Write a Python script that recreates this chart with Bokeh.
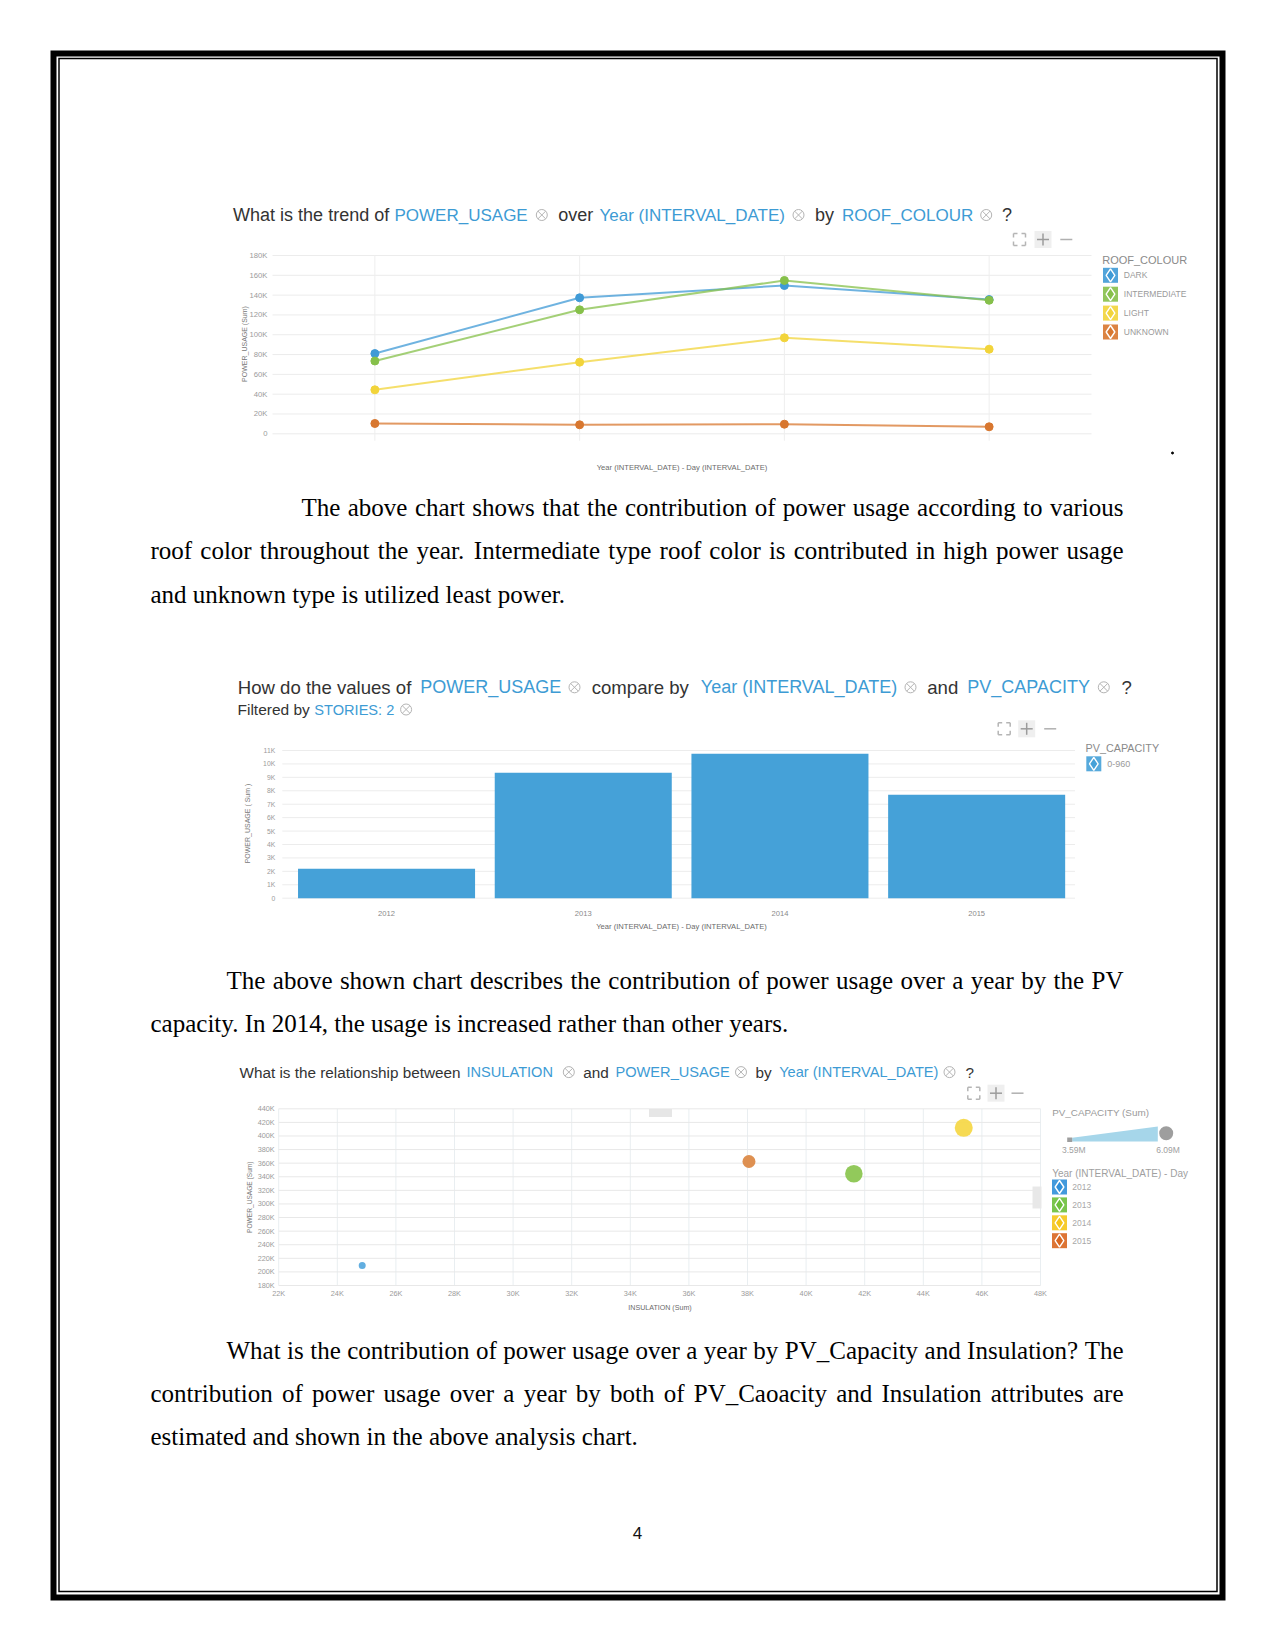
import math
from bokeh.plotting import figure
from bokeh.models import Range1d, ColumnDataSource, LinearInterpolator
from bokeh.transform import transform
from bokeh.core.properties import value
from bokeh.embed import file_html
from bokeh.resources import INLINE

# ---------------- data ----------------
years = ["2012", "2013", "2014", "2015"]
roof_colours = ["DARK", "INTERMEDIATE", "LIGHT", "UNKNOWN"]
usage_dark = [81000, 137300, 149700, 135500]
usage_intermediate = [73500, 125200, 154800, 134800]
usage_light = [44400, 72300, 96900, 85400]
usage_unknown = [10400, 9100, 9700, 7100]
line_y_ticks = [0, 20000, 40000, 60000, 80000, 100000, 120000, 140000, 160000, 180000]
line_y_labels = ["0", "20K", "40K", "60K", "80K", "100K", "120K", "140K", "160K", "180K"]

bar_usage = [2200, 9350, 10750, 7700]
bar_y_ticks = [0, 1000, 2000, 3000, 4000, 5000, 6000, 7000, 8000, 9000, 10000, 11000]
bar_y_labels = ["0", "1K", "2K", "3K", "4K", "5K", "6K", "7K", "8K", "9K", "10K", "11K"]
pv_capacity_bins = ["0-960"]

scatter_years = ["2012", "2013", "2014", "2015"]
scatter_insulation = [24850, 41630, 45380, 38050]
scatter_usage = [209400, 344400, 412000, 362500]
scatter_pv_capacity = [3590000, 5980000, 6090000, 4950000]
pv_size_labels = ["3.59M", "6.09M"]
scatter_x_ticks = [22000, 24000, 26000, 28000, 30000, 32000, 34000, 36000, 38000, 40000,
                   42000, 44000, 46000, 48000]
scatter_x_labels = ["22K", "24K", "26K", "28K", "30K", "32K", "34K", "36K", "38K", "40K",
                    "42K", "44K", "46K", "48K"]
scatter_y_ticks = [180000, 200000, 220000, 240000, 260000, 280000, 300000, 320000, 340000,
                   360000, 380000, 400000, 420000, 440000]
scatter_y_labels = ["180K", "200K", "220K", "240K", "260K", "280K", "300K", "320K", "340K",
                    "360K", "380K", "400K", "420K", "440K"]

para1 = ["The above chart shows that the contribution of power usage according to various",
         "roof color throughout the year. Intermediate type roof color is contributed in high power usage",
         "and unknown type is utilized least power."]
para2 = ["The above shown chart describes the contribution of power usage over a year by the PV",
         "capacity. In 2014, the usage is increased rather than other years."]
para3 = ["What is the contribution of power usage over a year by PV_Capacity and Insulation? The",
         "contribution of power usage over a year by both of PV_Caoacity and Insulation attributes are",
         "estimated and shown in the above analysis chart."]
page_number = "4"

# ---------------- styles ----------------
roof_colors = ["#3f9ad6", "#86c04a", "#f2d43a", "#d8772f"]
scatter_colors = ["#5aaade", "#8cc652", "#f5d84a", "#dc8a48"]
year_legend_colors = ["#2f8fd8", "#6cbf3a", "#f5c518", "#d9661f"]
BAR_COLOR = "#45a1d8"
HL = "#3d9bd4"
DARK = "#333333"
SANS = value("Liberation Sans")
SERIF = value("Liberation Serif")

P = figure(width=1259, height=1635, x_range=Range1d(0, 1259), y_range=Range1d(1635, 0),
           output_backend="svg", toolbar_location=None, min_border=0,
           x_axis_location=None, y_axis_location=None)
P.grid.visible = False
P.outline_line_color = None
P.background_fill_color = "white"
P.border_fill_color = "white"


def txt(x, y, s, size, color="#000000", font=SANS, align="left", baseline="middle",
        angle=0.0, style="normal", g=None, x_offset=0, y_offset=0):
    g = g or P
    n = max(len(v) if isinstance(v, list) else 1 for v in (x, y, s))
    xs = x if isinstance(x, list) else [x] * n
    ys = y if isinstance(y, list) else [y] * n
    ss = s if isinstance(s, list) else [s] * n
    g.text(x=xs, y=ys, text=ss, text_font=font, text_font_size=f"{size}px",
           text_color=color, text_align=align, text_baseline=baseline, angle=angle,
           text_font_style=style, x_offset=x_offset, y_offset=y_offset)


# ---------------- page border ----------------
P.quad(left=53, right=1222, top=53, bottom=1597, fill_color=None, line_color="black",
       line_width=6, line_join="miter")
P.quad(left=58.5, right=1216.5, top=58, bottom=1591, fill_color=None, line_color="black",
       line_width=1.5, line_join="miter")

# ---------------- paragraph text (justified) ----------------
TNR = {' ': 250, 'a': 444, 'b': 500, 'c': 444, 'd': 500, 'e': 444, 'f': 333, 'g': 500,
       'h': 500, 'i': 278, 'j': 278, 'k': 500, 'l': 278, 'm': 778, 'n': 500, 'o': 500,
       'p': 500, 'q': 500, 'r': 333, 's': 389, 't': 278, 'u': 500, 'v': 500, 'w': 722,
       'x': 500, 'y': 500, 'z': 444, 'A': 722, 'B': 667, 'C': 667, 'D': 722, 'E': 611,
       'F': 556, 'G': 722, 'H': 722, 'I': 333, 'J': 389, 'K': 722, 'L': 611, 'M': 889,
       'N': 722, 'O': 722, 'P': 556, 'Q': 722, 'R': 667, 'S': 556, 'T': 611, 'U': 722,
       'V': 722, 'W': 944, 'X': 722, 'Y': 722, 'Z': 611, '.': 250, ',': 250, '?': 444,
       '_': 500, '-': 333}
FS = 25
RIGHT = 1123


def tw(s, size):
    return sum(TNR.get(c, 500) for c in s) / 1000.0 * size


def para(lines, firsts, centers):
    for i, (line, left, cy) in enumerate(zip(lines, firsts, centers)):
        last = i == len(lines) - 1
        if last:
            txt(left, cy, line, FS, font=SERIF, baseline="alphabetic")
            continue
        words = line.split(" ")
        widths = [tw(w, FS) for w in words]
        gap = (RIGHT - left - sum(widths)) / (len(words) - 1)
        xs, x = [], left
        for w in widths:
            xs.append(x)
            x += w + gap
        txt(xs[:-1], cy, words[:-1], FS, font=SERIF, baseline="alphabetic")
        txt(RIGHT, cy, words[-1], FS, font=SERIF, align="right", baseline="alphabetic")


para(para1, [301, 150, 150], [507.3, 550.4, 593.5])
para(para2, [226, 150], [979.5, 1022.6])
para(para3, [226, 150, 150], [1349.5, 1392.6, 1435.7])
txt(637, 1532, page_number, 17, color="#111111", align="center", baseline="alphabetic")
P.scatter(x=[1172], y=[452.5], size=2, color="black")


# ---------------- shared chart decorations ----------------
def title(segs, cy, dark_size, hl_size):
    for s in segs:
        if s[0] == "x":
            P.scatter(x=[s[1]], y=[cy], marker="circle_x", size=11, fill_color=None,
                      line_color="#b4b4b4", line_width=1)
        elif s[1] == "h":
            txt(s[2], cy, s[0], hl_size, color=HL, baseline="alphabetic")
        else:
            txt(s[2], cy, s[0], dark_size, color=DARK, baseline="alphabetic")


def toolbar(xf, xp, xm, y):
    P.rect(x=[xf], y=[y], width=12, height=12, fill_color=None, line_color="#b5b5b5",
           line_width=1.5, line_dash="4 4 4 0")
    P.rect(x=[xp], y=[y], width=17, height=17, fill_color="#efefef", line_color=None)
    P.segment(x0=[xp - 6, xp], y0=[y, y - 6], x1=[xp + 6, xp], y1=[y, y + 6],
              line_color="#9c9c9c", line_width=1.5)
    P.segment(x0=[xm - 6], y0=[y], x1=[xm + 6], y1=[y], line_color="#b0b0b0", line_width=1.5)


def legend_icons(xs, ys, colors):
    P.scatter(x=xs, y=ys, marker="square", size=15, fill_color=colors, fill_alpha=0.9,
              line_color=None)
    P.scatter(x=xs, y=ys, marker="diamond", size=13, fill_color=colors, line_color="white",
              line_width=1.4)


idx = list(range(len(years)))

# ================= chart 1: line chart =================
title([("What is the trend of", "t", 232.6), ("POWER_USAGE", "h", 394), ("x", 541.3),
       ("over", "t", 557.8), ("Year (INTERVAL_DATE)", "h", 599), ("x", 798),
       ("by", "t", 814.5), ("ROOF_COLOUR", "h", 841.5), ("x", 985.7), ("?", "t", 1001.5)],
      214.5, 18, 17)
toolbar(1019, 1042.5, 1065.8, 239)

c1 = P.subplot(x_source=Range1d(-0.5, 3.5), y_source=Range1d(0, 180000),
               x_target=Range1d(272, 1091), y_target=Range1d(433.3, 255))
c1.segment(x0=-0.5, x1=3.5, y0=line_y_ticks, y1=line_y_ticks, line_color="#ececec", line_width=1)
c1.segment(x0=idx, x1=idx, y0=-7000, y1=180000, line_color="#eeeeee", line_width=1)
txt(-0.5, line_y_ticks, line_y_labels, 7.7, color="#9b9b9b", align="right", g=c1, x_offset=-5)
series = [usage_dark, usage_intermediate, usage_light, usage_unknown]
for vals, col in zip(series, roof_colors):
    src = ColumnDataSource(dict(x=idx, y=vals))
    c1.line(x="x", y="y", source=src, line_color=col, line_width=2, line_alpha=0.75)
    c1.scatter(x="x", y="y", source=src, size=8, fill_color=col, line_color=col)
txt(681.5, 466.7, "Year (INTERVAL_DATE) - Day (INTERVAL_DATE)", 7.6, color="#6a6a6a",
    align="center")
txt(243.5, 343.5, "POWER_USAGE (Sum)", 7, color="#777777", align="center", angle=math.pi / 2)
txt(1101.7, 259.3, "ROOF_COLOUR", 11, color="#8a8a8a")
leg_y1 = [274.8 + 18.9 * i for i in range(len(roof_colours))]
legend_icons([1110] * len(roof_colours), leg_y1, roof_colors)
txt([1123.3] * len(roof_colours), leg_y1, roof_colours, 8.5, color="#9a9a9a")

# ================= chart 2: bar chart =================
title([("How do the values of", "t", 237.2), ("POWER_USAGE", "h", 419.8), ("x", 574),
       ("compare by", "t", 591.2), ("Year (INTERVAL_DATE)", "h", 700.3), ("x", 910),
       ("and", "t", 926.7), ("PV_CAPACITY", "h", 966.7), ("x", 1103.3), ("?", "t", 1121)],
      686.8, 18.6, 18)
title([("Filtered by", "t", 237), ("STORIES: 2", "h", 313.8), ("x", 405.6)], 709, 15.5, 14.6)
toolbar(1003.7, 1026.2, 1049.7, 728.3)

c2 = P.subplot(x_source=Range1d(-0.5, 3.5), y_source=Range1d(0, 11000),
               x_target=Range1d(287.7, 1074.5), y_target=Range1d(897.7, 750))
c2.segment(x0=-0.53, x1=3.5, y0=bar_y_ticks, y1=bar_y_ticks, line_color="#ececec", line_width=1)
c2.vbar(x=idx, top=bar_usage, bottom=0, width=0.9, fill_color=BAR_COLOR, line_color=None)
txt(-0.5, bar_y_ticks, bar_y_labels, 6.8, color="#9b9b9b", align="right", g=c2, x_offset=-13)
txt(idx, 0, years, 7.6, color="#8a8a8a", align="center", g=c2, y_offset=15.6)
txt(681, 925.7, "Year (INTERVAL_DATE) - Day (INTERVAL_DATE)", 7.6, color="#6a6a6a",
    align="center")
txt(247, 823, "POWER_USAGE ( Sum )", 7, color="#777777", align="center", angle=math.pi / 2)
txt(1085, 747.7, "PV_CAPACITY", 10.8, color="#8a8a8a")
legend_icons([1093.3], [763.3], [BAR_COLOR])
txt(1106.7, 763.3, pv_capacity_bins[0], 9, color="#9a9a9a")

# ================= chart 3: scatter chart =================
title([("What is the relationship between", "t", 239), ("INSULATION", "h", 466), ("x", 568.3),
       ("and", "t", 582.8), ("POWER_USAGE", "h", 615), ("x", 740.5), ("by", "t", 755),
       ("Year (INTERVAL_DATE)", "h", 778.7), ("x", 949), ("?", "t", 965)],
      1071.6, 15.3, 14.6)
toolbar(973.3, 995.5, 1017, 1092.7)

c3 = P.subplot(x_source=Range1d(22000, 48000), y_source=Range1d(180000, 440000),
               x_target=Range1d(278.2, 1040), y_target=Range1d(1285, 1108.3))
c3.segment(x0=scatter_x_ticks, x1=scatter_x_ticks, y0=180000, y1=440000, line_color="#e9eef1",
           line_width=1)
c3.segment(x0=22000, x1=48000, y0=scatter_y_ticks, y1=scatter_y_ticks, line_color="#e8e8e8",
           line_width=1)
txt(22000, scatter_y_ticks, scatter_y_labels, 7.3, color="#9b9b9b", align="right", g=c3,
    x_offset=-4)
txt(scatter_x_ticks, 180000, scatter_x_labels, 7.3, color="#9b9b9b", align="center", g=c3,
    y_offset=8)
size_map = LinearInterpolator(x=[min(scatter_pv_capacity), max(scatter_pv_capacity)], y=[7, 18])
src3 = ColumnDataSource(dict(x=scatter_insulation, y=scatter_usage, pv=scatter_pv_capacity,
                             color=scatter_colors, year=scatter_years))
c3.scatter(x="x", y="y", source=src3, size=transform("pv", size_map), fill_color="color",
           line_color=None, fill_alpha=0.95)
# small collapse tabs
P.rect(x=[660], y=[1112.5], width=23, height=8, fill_color="#e6e6e6", line_color=None)
P.rect(x=[1036.5], y=[1197], width=9, height=22, fill_color="#e8e8e8", line_color=None)
txt(659.5, 1307.3, "INSULATION (Sum)", 7.1, color="#6a6a6a", align="center")
txt(249, 1196.7, "POWER_USAGE (Sum)", 6.6, color="#777777", align="center", angle=math.pi / 2)
txt(1051.7, 1112.3, "PV_CAPACITY (Sum)", 9.9, color="#9a9a9a")
P.patch(x=[1071.7, 1157.3, 1157.3, 1071.7], y=[1137.2, 1126, 1141, 1141], fill_color="#a6d6ea",
        line_color=None)
P.quad(left=1066.7, right=1071.7, top=1137, bottom=1141.5, fill_color="#9e9e9e", line_color=None)
P.scatter(x=[1165.7], y=[1132.7], size=14, fill_color="#9e9e9e", line_color=None)
txt([1073.3, 1167.5], 1149, pv_size_labels, 8.5, color="#a0a0a0", align="center")
txt(1051.7, 1173.3, "Year (INTERVAL_DATE) - Day", 10, color="#a0a0a0")
leg_y3 = [1186.5 + 17.9 * i for i in range(len(scatter_years))]
legend_icons([1059] * len(scatter_years), leg_y3, year_legend_colors)
txt([1071.7] * len(scatter_years), leg_y3, scatter_years, 8.5, color="#a8a8a8")

open("out.html", "w").write(file_html(P, INLINE))
